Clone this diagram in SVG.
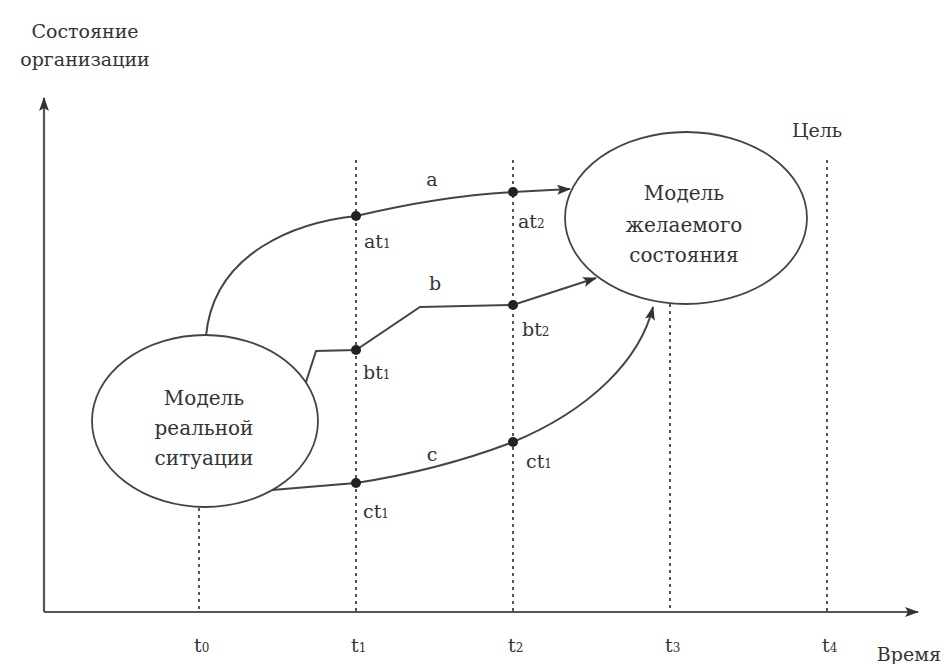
<svg xmlns="http://www.w3.org/2000/svg" width="946" height="664" viewBox="0 0 946 664" font-family="'DejaVu Serif', 'Liberation Serif', serif">
<style>
text{font-family:'DejaVu Serif','Liberation Serif',serif;fill:#333;}
.lbl{font-size:20px;text-anchor:middle;}
.sm{font-size:19px;}
.sub{font-size:12px;}
.ax{stroke:#555;stroke-width:2.2;fill:none;}
.dash{stroke:#555;stroke-width:2;stroke-dasharray:3,4;fill:none;}
.ell{fill:#fff;stroke:#444;stroke-width:1.8;}
.edge{stroke:#444;stroke-width:2;fill:none;}
.dot{fill:#222;}
</style>
<defs>
<marker id="ar" markerWidth="14" markerHeight="10" refX="13" refY="5" orient="auto" markerUnits="userSpaceOnUse">
<path d="M0,0 L14,5 L0,10 L3,5 Z" fill="#333"/>
</marker>
</defs>
<rect width="946" height="664" fill="#fff"/>
<g id="axes">
<line class="ax" x1="44" y1="612" x2="44" y2="98" marker-end="url(#ar)"/>
<line class="ax" x1="44" y1="612" x2="918" y2="612" marker-end="url(#ar)"/>
<text class="sm" x="85" y="38" text-anchor="middle">Состояние</text>
<text class="sm" x="85" y="66" text-anchor="middle">организации</text>
<text class="sm" x="941" y="661" text-anchor="end">Время</text>
</g>
<g id="gridlines">
<line class="dash" x1="199" y1="508" x2="199" y2="612"/>
<line class="dash" x1="356" y1="160" x2="356" y2="612"/>
<line class="dash" x1="513" y1="160" x2="513" y2="612"/>
<line class="dash" x1="670" y1="304" x2="670" y2="612"/>
<line class="dash" x1="827" y1="160" x2="827" y2="612"/>
</g>
<g id="ticks">
<text class="sm" x="194" y="652">t<tspan class="sub">0</tspan></text>
<text class="sm" x="351" y="652">t<tspan class="sub">1</tspan></text>
<text class="sm" x="508" y="652">t<tspan class="sub">2</tspan></text>
<text class="sm" x="665" y="652">t<tspan class="sub">3</tspan></text>
<text class="sm" x="822" y="652">t<tspan class="sub">4</tspan></text>
<text class="sm" x="817" y="137" text-anchor="middle">Цель</text>
</g>
<g id="connectors">
<path class="edge" d="M206,336 C214,250 300,222 356,216 Q440,196 513,192 L570,189" marker-end="url(#ar)"/>
<path class="edge" d="M306,382 L316,351 L356,350 L420,307 L513,305 L596,278" marker-end="url(#ar)"/>
<path class="edge" d="M272,490 L356,483 Q440,470 513,442 C590,410 640,360 653,307" marker-end="url(#ar)"/>
</g>
<g id="real">
<ellipse class="ell" cx="205" cy="421" rx="113" ry="86"/>
<text class="lbl" x="204" y="405">Модель</text>
<text class="lbl" x="204" y="435">реальной</text>
<text class="lbl" x="204" y="465">ситуации</text>
</g>
<g id="desired">
<ellipse class="ell" cx="686" cy="218" rx="121" ry="86"/>
<text class="lbl" x="684" y="200">Модель</text>
<text class="lbl" x="684" y="232">желаемого</text>
<text class="lbl" x="684" y="262">состояния</text>
</g>
<g id="points">
<circle class="dot" cx="356" cy="216" r="5"/>
<circle class="dot" cx="513" cy="192" r="5"/>
<circle class="dot" cx="356" cy="350" r="5"/>
<circle class="dot" cx="513" cy="305" r="5"/>
<circle class="dot" cx="356" cy="483" r="5"/>
<circle class="dot" cx="513" cy="442" r="5"/>
</g>
<g id="labels">
<text class="sm" x="432" y="186" text-anchor="middle">a</text>
<text class="sm" x="435" y="290" text-anchor="middle">b</text>
<text class="sm" x="432" y="461" text-anchor="middle">c</text>
<text class="sm" x="364" y="248">at<tspan class="sub">1</tspan></text>
<text class="sm" x="518" y="228">at<tspan class="sub">2</tspan></text>
<text class="sm" x="363" y="379">bt<tspan class="sub">1</tspan></text>
<text class="sm" x="522" y="336">bt<tspan class="sub">2</tspan></text>
<text class="sm" x="363" y="518">ct<tspan class="sub">1</tspan></text>
<text class="sm" x="526" y="468">ct<tspan class="sub">1</tspan></text>
</g>
</svg>
